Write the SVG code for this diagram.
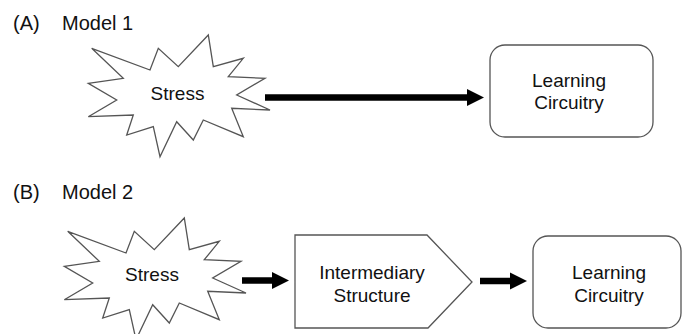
<svg xmlns="http://www.w3.org/2000/svg" width="683" height="334" viewBox="0 0 683 334">
<defs>
<style>
.t{font-family:"Liberation Sans",Arial,sans-serif;fill:#111;}
.title{font-size:20px;}
.lbl{font-size:19px;text-anchor:middle;}
.shape{fill:#fff;stroke:#555;stroke-width:1.3;stroke-linejoin:miter;}
.conn{stroke:#000;stroke-width:6.5;fill:none;}
</style>
<marker id="ah" markerUnits="userSpaceOnUse" markerWidth="18" markerHeight="18" viewBox="0 0 18 18" refX="0" refY="9" orient="auto">
<polygon points="0,0.5 17,9 0,17.5" fill="#000"/>
</marker>
<polygon id="star" points="91.7,48.3 150,70 158.3,48.3 178.3,66.7 208.3,35 213.3,66.7 243.3,58.3 228.3,76.7 265,78.3 236.7,95 270,110 231.7,108.3 243.3,136.7 203.3,120 193.3,140 176.7,121.7 160,156.7 153.3,126.7 126.7,135 133.3,115 88.3,116.7 116.7,100 88.3,83.3 123.3,78.3"/>
</defs>
<rect width="683" height="334" fill="#fff"/>
<text class="t title" x="13" y="30">(A)</text>
<text class="t title" x="62" y="30">Model 1</text>
<text class="t title" x="13" y="199">(B)</text>
<text class="t title" x="62" y="199">Model 2</text>
<g id="connectors">
<line class="conn" x1="265" y1="97.5" x2="467" y2="97.5" marker-end="url(#ah)"/>
<line class="conn" x1="242" y1="280.5" x2="272" y2="280.5" marker-end="url(#ah)"/>
<line class="conn" x1="480" y1="281" x2="510" y2="281" marker-end="url(#ah)"/>
</g>
<g id="stressA">
<use href="#star" class="shape"/>
<text class="t lbl" x="177.5" y="100">Stress</text>
</g>
<g id="learningA">
<rect class="shape" x="490" y="45" width="163" height="92" rx="15" ry="15"/>
<text class="t lbl" x="569" y="86.7">Learning</text>
<text class="t lbl" x="569" y="109.3">Circuitry</text>
</g>
<g id="stressB">
<use href="#star" class="shape" transform="translate(-24,183)"/>
<text class="t lbl" x="152" y="281">Stress</text>
</g>
<g id="intermediary">
<polygon class="shape" points="295,235 427,235 472,282 428,328 295,328"/>
<text class="t lbl" x="372" y="279.3">Intermediary</text>
<text class="t lbl" x="372" y="301.7">Structure</text>
</g>
<g id="learningB">
<rect class="shape" x="533" y="236" width="148" height="92" rx="15" ry="15"/>
<text class="t lbl" x="609" y="279.3">Learning</text>
<text class="t lbl" x="609" y="301.7">Circuitry</text>
</g>
</svg>
